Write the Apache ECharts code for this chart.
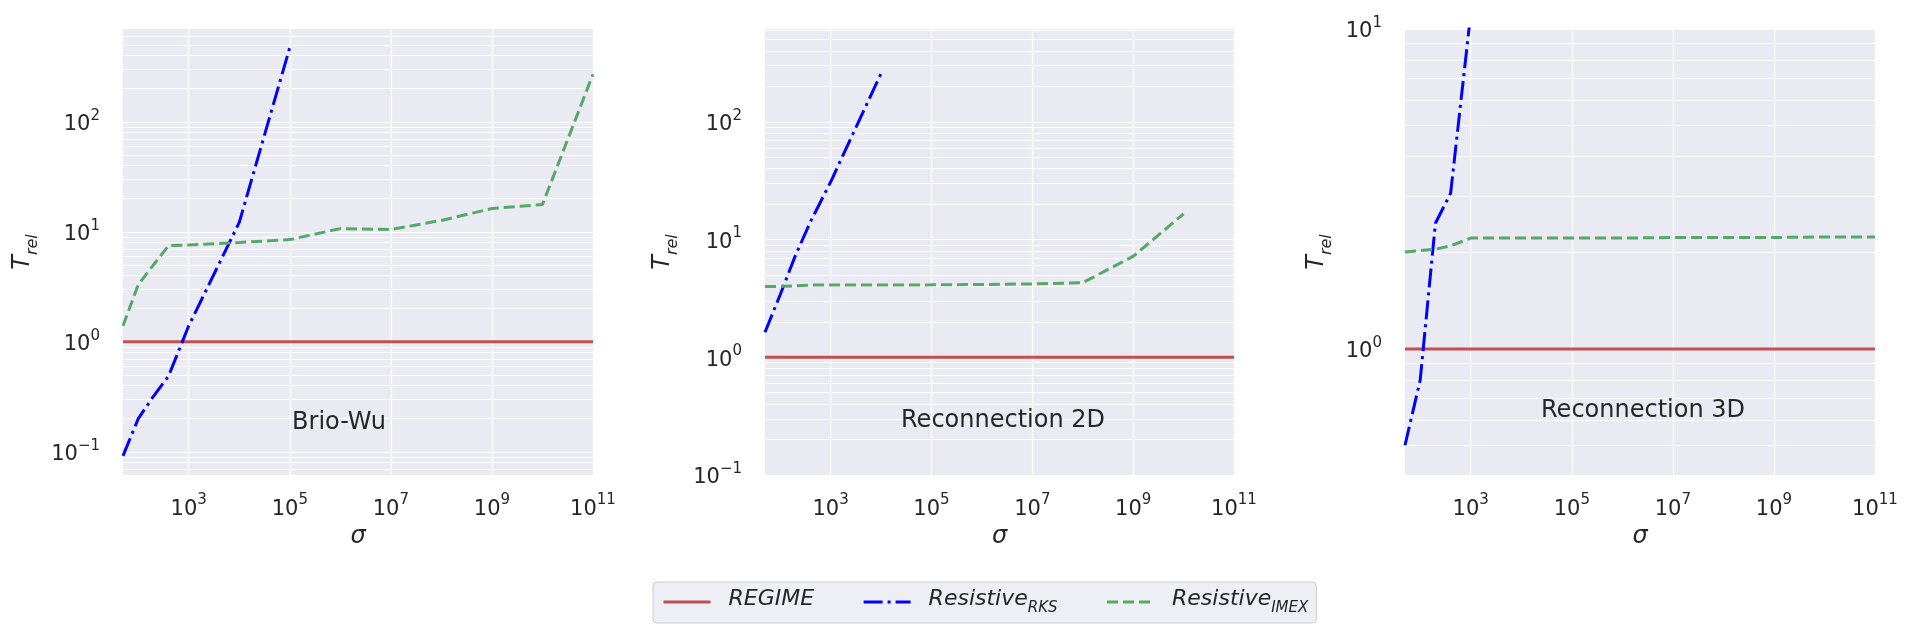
<!DOCTYPE html>
<html lang="en">
<head>
<meta charset="UTF-8">
<title>T_rel vs sigma</title>
<style>
  html, body { margin: 0; padding: 0; background: #fff; }
  #main { width: 1918px; height: 638px; }
</style>
<script src="https://cdn.jsdelivr.net/npm/echarts@6/dist/echarts.min.js"></script>
</head>
<body>
<div id="main"></div>
<script>
// sigma values shared by all curves
var sigma = [50, 100, 200, 400, 1e3, 1e4, 1e5, 1e6, 1e7, 1e8, 1e9, 1e10, 1e11];

// Brio-Wu
var bwRegime = [1, 1, 1, 1, 1, 1, 1, 1, 1, 1, 1, 1, 1];
var bwRks    = [0.092, 0.2, 0.32, 0.49, 1.4, 12.2, 474, null, null, null, null, null, null];
var bwImex   = [1.4, 3.3, 5.0, 7.5, 7.6, 8.0, 8.5, 10.7, 10.5, 12.7, 16.3, 17.7, 271];

// Reconnection 2D
var r2Regime = [1, 1, 1, 1, 1, 1, 1, 1, 1, 1, 1, 1, 1];
var r2Rks    = [1.63, 3.4, 7.3, 14.2, 30.8, 257, null, null, null, null, null, null, null];
var r2Imex   = [4.0, 4.0, 4.05, 4.1, 4.1, 4.1, 4.12, 4.15, 4.2, 4.3, 7.2, 16.5, null];

// Reconnection 3D
var r3Regime = [1, 1, 1, 1, 1, 1, 1, 1, 1, 1, 1, 1, 1];
var r3Rks    = [0.5, 0.8, 2.47, 3.07, 11.2, null, null, null, null, null, null, null, null];
var r3Imex   = [2.01, 2.03, 2.05, 2.1, 2.22, 2.22, 2.22, 2.22, 2.23, 2.23, 2.23, 2.24, 2.24];

// tick labels
var xTicks = [1e3, 1e5, 1e7, 1e9, 1e11];
var yTicks = [[0.1, 1, 10, 100], [0.1, 1, 10, 100], [1, 10]];
var yRange = [[0.0616, 698], [0.1, 614], [0.4036, 10]];
var panelNames = ['Brio-Wu', 'Reconnection 2D', 'Reconnection 3D'];

var textColor = '#262626';
var font = 'DejaVu Sans';

function sci(v) {
    var e = Math.round(Math.log10(v));
    return '{b|10}{e|' + (e < 0 ? '\u2212' + (-e) : e) + '}';
}
var sciRich = {
    b: { fontSize: 21, lineHeight: 27, verticalAlign: 'bottom', color: textColor, fontFamily: font },
    e: { fontSize: 15, lineHeight: 15, verticalAlign: 'top', color: textColor, fontFamily: font }
};

// minor grid lines 2..9 x 10^n inside the range
function gridValues(range) {
    var out = [];
    for (var p = -3; p <= 3; p++) {
        for (var m = 1; m <= 9; m++) {
            var v = m * Math.pow(10, p);
            if (v >= range[0] && v <= range[1]) out.push(+v.toPrecision(3));
        }
    }
    return out;
}

var grids = [
    { left: 123, top: 29, width: 470, height: 446 },
    { left: 765, top: 29, width: 469, height: 446 },
    { left: 1405, top: 29, width: 470, height: 446 }
];
var nameGaps = [82, 84, 70];

var xAxes = [], yAxes = [];
grids.forEach(function (g, i) {
    g.show = true;
    g.backgroundColor = '#eaeaf2';
    g.borderWidth = 0;
    xAxes.push({
        type: 'log', logBase: 10, gridIndex: i, min: 50, max: 1e11,
        name: 'σ', nameLocation: 'middle', nameGap: 47,
        nameTextStyle: { fontSize: 24, fontStyle: 'italic', color: textColor, fontFamily: font },
        axisLine: { show: false },
        axisTick: { show: false, customValues: xTicks },
        axisLabel: { customValues: xTicks, formatter: sci, rich: sciRich, margin: 18 },
        splitLine: { show: true, lineStyle: { color: '#ffffff', width: 1.2 } }
    });
    yAxes.push({
        type: 'log', logBase: 10, gridIndex: i, min: yRange[i][0], max: yRange[i][1],
        name: '{t|T}{r|rel}', nameLocation: 'middle', nameGap: nameGaps[i], nameRotate: 90,
        nameTextStyle: {
            rich: {
                t: { fontSize: 24, fontStyle: 'italic', lineHeight: 30, verticalAlign: 'top', color: textColor, fontFamily: font },
                r: { fontSize: 16, fontStyle: 'italic', lineHeight: 16, verticalAlign: 'bottom', color: textColor, fontFamily: font }
            }
        },
        axisLine: { show: false },
        axisTick: { show: false, customValues: gridValues(yRange[i]) },
        axisLabel: { customValues: yTicks[i], formatter: sci, rich: sciRich, margin: 23 },
        splitLine: { show: true, lineStyle: { color: '#ffffff', width: 1.2 } }
    });
});

var styles = {
    'REGIME': { color: '#c44e52', width: 3, type: 'solid' },
    'Resistive_RKS': { color: '#0000ff', width: 3, type: [19, 5, 3, 5] },
    'Resistive_IMEX': { color: '#55a868', width: 3, type: [11, 5] }
};

function mk(name, vals, gi) {
    var st = styles[name];
    return {
        name: name, type: 'line', xAxisIndex: gi, yAxisIndex: gi,
        data: sigma.map(function (s, k) { return [s, vals[k]]; })
                   .filter(function (p) { return p[1] != null; }),
        symbol: 'none', showSymbol: false, silent: true,
        color: st.color, itemStyle: { color: st.color },
        lineStyle: st
    };
}

var series = [
    mk('REGIME', bwRegime, 0), mk('Resistive_RKS', bwRks, 0), mk('Resistive_IMEX', bwImex, 0),
    mk('REGIME', r2Regime, 1), mk('Resistive_RKS', r2Rks, 1), mk('Resistive_IMEX', r2Imex, 1),
    mk('REGIME', r3Regime, 2), mk('Resistive_RKS', r3Rks, 2), mk('Resistive_IMEX', r3Imex, 2)
];

var labelPos = [[339, 423], [1003, 421], [1643, 411]];

var myChart = echarts.init(document.getElementById('main'));
var option = {
    animation: false,
    backgroundColor: '#ffffff',
    textStyle: { fontFamily: font, color: textColor },
    grid: grids,
    xAxis: xAxes,
    yAxis: yAxes,
    legend: {
        left: 653, top: 582,
        orient: 'horizontal',
        padding: [6, 8, 7, 9],
        itemGap: 48,
        itemWidth: 47, itemHeight: 14,
        itemStyle: { opacity: 0, borderWidth: 0 },
        lineStyle: { width: 3 },
        backgroundColor: 'rgba(234,234,242,0.8)',
        borderColor: '#cccccc', borderWidth: 1, borderRadius: 4,
        data: ['REGIME', 'Resistive_RKS', 'Resistive_IMEX'],
        formatter: function (n) {
            if (n === 'REGIME') return '{i|REGIME}';
            if (n === 'Resistive_RKS') return '{i|Resistive}{s|RKS}';
            return '{i|Resistive}{s|IMEX}';
        },
        textStyle: {
            rich: {
                i: { fontSize: 22, fontStyle: 'italic', lineHeight: 28, verticalAlign: 'top', padding: [0, 0, 0, 13], color: textColor, fontFamily: font },
                s: { fontSize: 15, fontStyle: 'italic', lineHeight: 15, verticalAlign: 'bottom', color: textColor, fontFamily: font }
            }
        }
    },
    graphic: panelNames.map(function (t, i) {
        return {
            type: 'text', x: labelPos[i][0], y: labelPos[i][1], silent: true, z: 100,
            style: { text: t, font: '24px "DejaVu Sans"', fill: textColor, textAlign: 'center', textVerticalAlign: 'middle' }
        };
    }),
    series: series
};
myChart.setOption(option);
</script>
</body>
</html>
